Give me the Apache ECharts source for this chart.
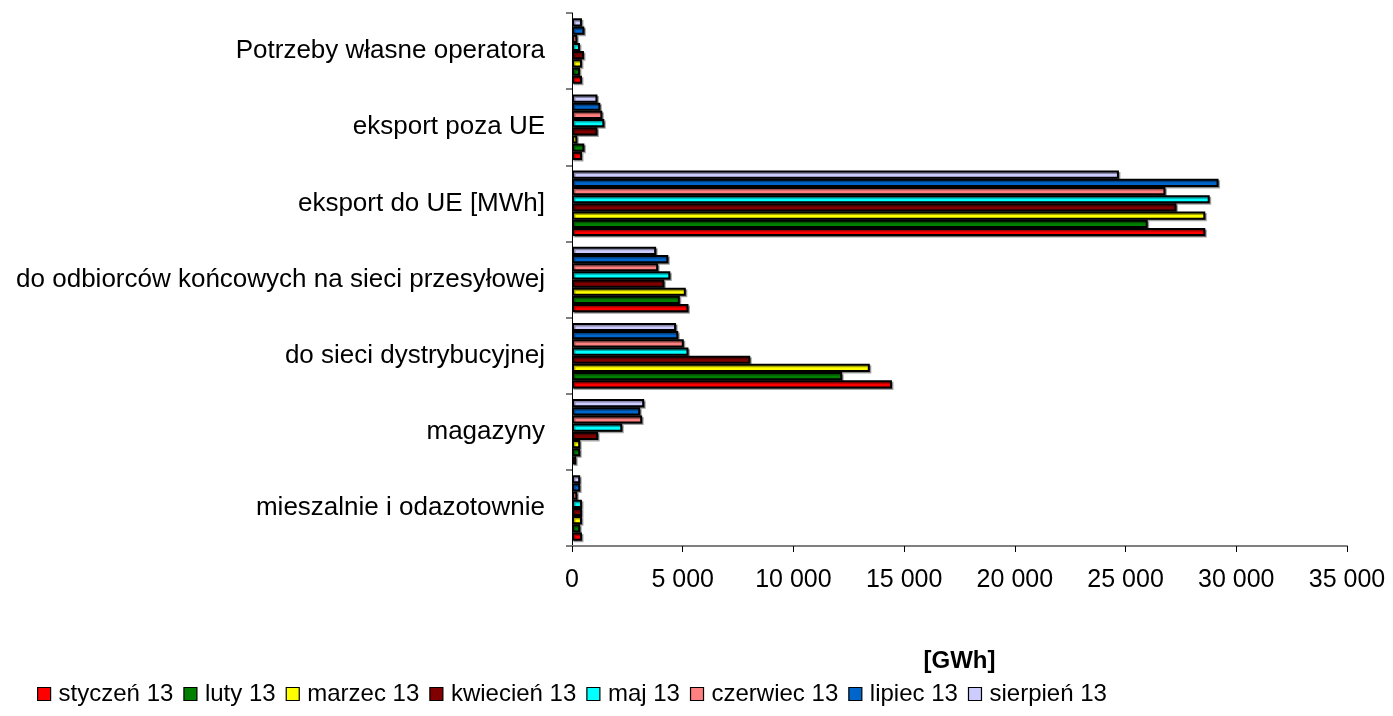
<!DOCTYPE html>
<html>
<head>
<meta charset="utf-8">
<script src="https://cdn.jsdelivr.net/npm/echarts@6/dist/echarts.min.js"></script>
<style>
html,body{margin:0;padding:0;background:#fff;}
#chart{width:1393px;height:716px;}
</style>
</head>
<body>
<div id="chart"></div>
<script>
// Categories listed bottom to top
const categories = [
  'mieszalnie i odazotownie',
  'magazyny',
  'do sieci dystrybucyjnej',
  'do odbiorców końcowych na sieci przesyłowej',
  'eksport do UE [MWh]',
  'eksport poza UE',
  'Potrzeby własne operatora'
];
const seriesNames = ['styczeń 13','luty 13','marzec 13','kwiecień 13','maj 13','czerwiec 13','lipiec 13','sierpień 13'];
const seriesColors = ['#FF0000','#008000','#FFFF00','#800000','#00FFFF','#FF8080','#0066CC','#CCCCFF'];

const styczen  = [450, 190, 14450, 5260, 28600, 450, 450];
const luty     = [370, 370, 12200, 4870, 26000, 560, 360];
const marzec   = [450, 370, 13450, 5140, 28600, 240, 450];
const kwiecien = [450, 1180, 8050, 4170, 27300, 1150, 540];
const maj      = [450, 2270, 5260, 4440, 28800, 1460, 360];
const czerwiec = [240, 3170, 5050, 3890, 26800, 1370, 240];
const lipiec   = [370, 3080, 4800, 4350, 29200, 1280, 560];
const sierpien = [370, 3260, 4700, 3800, 24700, 1150, 450];
const seriesValues = [styczen, luty, marzec, kwiecien, maj, czerwiec, lipiec, sierpien];

const xMin = 0, xMax = 35000, xInterval = 5000;
const axisName = '[GWh]';

const FONT = "'Liberation Sans', Arial, sans-serif";
function fmt(v){ return String(v).replace(/\B(?=(\d{3})+(?!\d))/g, ' '); }

// Series are added in reverse so the first month sits at the bottom of each group
const order = seriesNames.map((_, i) => i).reverse();

const chart = echarts.init(document.getElementById('chart'));
chart.setOption({
  animation: false,
  backgroundColor: '#ffffff',
  grid: { left: 572, right: 46, top: 13, bottom: 170, containLabel: false },
  legend: {
    data: seriesNames,
    left: 32, top: 677,
    itemWidth: 13, itemHeight: 13, itemGap: 10,
    icon: 'rect',
    itemStyle: { borderColor: '#000', borderWidth: 1.2 },
    textStyle: { fontFamily: FONT, fontSize: 24, color: '#000', padding: [0,0,0,3] }
  },
  xAxis: {
    type: 'value', min: xMin, max: xMax, interval: xInterval,
    name: axisName, nameLocation: 'middle', nameGap: 103,
    nameTextStyle: { fontFamily: FONT, fontSize: 24, fontWeight: 'bold', color: '#000' },
    axisLine: { show: true, lineStyle: { color: '#808080', width: 2 } },
    axisTick: { show: true, length: 6, lineStyle: { color: '#000', width: 1 } },
    axisLabel: { fontFamily: FONT, fontSize: 25, color: '#000', margin: 22, formatter: fmt },
    splitLine: { show: false }
  },
  yAxis: {
    type: 'category', data: categories,
    axisLine: { show: true, onZero: false, lineStyle: { color: '#000', width: 1 } },
    axisTick: { show: true, length: 6, lineStyle: { color: '#808080', width: 2 } },
    axisLabel: { fontFamily: FONT, fontSize: 26, color: '#000', margin: 27 }
  },
  series: order.map(i => ({
    name: seriesNames[i], type: 'bar', data: seriesValues[i],
    barGap: '0%', barCategoryGap: '14%',
    itemStyle: {
      color: seriesColors[i], borderColor: '#000', borderWidth: 2,
      shadowColor: 'rgba(0,0,0,0.35)', shadowOffsetX: 1.5, shadowOffsetY: 1.5, shadowBlur: 0.5
    }
  }))
});
</script>
</body>
</html>
